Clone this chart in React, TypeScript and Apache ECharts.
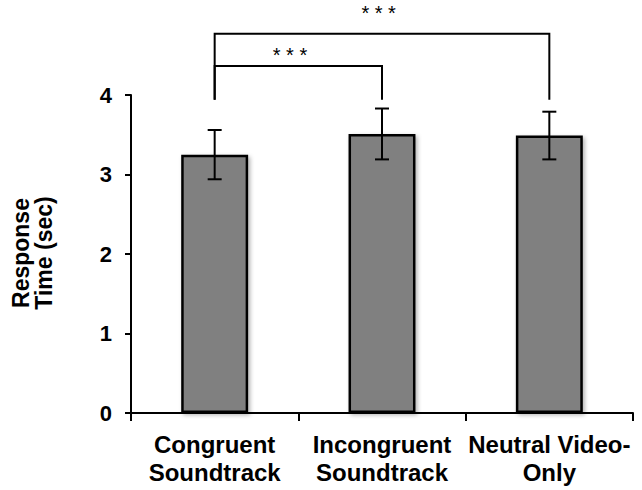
import React, { useEffect, useRef } from "react";
import * as echarts from "echarts";

const categories = ["Congruent\nSoundtrack", "Incongruent\nSoundtrack", "Neutral Video-\nOnly"];
const meanRT = [3.25, 3.51, 3.49];
const semRT = [0.31, 0.32, 0.3];
const yMin = 0;
const yMax = 4;
const yInterval = 1;

const bracketFrom = [0, 0];
const bracketTo = [1, 2];
const bracketTop = [4.365, 4.77];
const bracketFoot = 3.94;
const starText = ["* * *", "* * *"];
const starX = [0.45, 0.98];
const starY = [4.5, 5.03];

const FONT = "'Liberation Sans', Arial, Helvetica, sans-serif";

export default function App() {
  const ref = useRef<HTMLDivElement>(null);

  useEffect(() => {
    document.body.style.margin = "0";
    const chart = echarts.init(ref.current as HTMLDivElement, undefined, { renderer: "svg" });

    const errData = meanRT.map((m, i) => [i, m - semRT[i], m + semRT[i]]);
    const brData = bracketFrom.map((f, i) => [f, bracketTo[i], bracketTop[i], starX[i], starY[i]]);

    chart.setOption({
      animation: false,
      backgroundColor: "#fff",
      grid: { left: 131, right: 9, top: 95, bottom: 77 },
      graphic: [
        {
          type: "text",
          x: 32,
          y: 253,
          rotation: Math.PI / 2,
          style: {
            text: "Response\nTime (sec)",
            fontFamily: FONT,
            fontSize: 23,
            fontWeight: "bold",
            lineHeight: 23,
            fill: "#000",
            align: "center",
            verticalAlign: "middle",
          },
        },
      ],
      xAxis: {
        type: "category",
        data: categories,
        axisLine: { show: true, lineStyle: { color: "#000", width: 2 } },
        axisTick: { show: true, length: 8, alignWithLabel: false, lineStyle: { color: "#000", width: 2 } },
        axisLabel: {
          interval: 0,
          color: "#000",
          fontFamily: FONT,
          fontSize: 24,
          fontWeight: "bold",
          lineHeight: 28,
          margin: 17,
        },
      },
      yAxis: {
        type: "value",
        min: yMin,
        max: yMax,
        interval: yInterval,
        splitLine: { show: false },
        axisLine: { show: true, lineStyle: { color: "#000", width: 2 } },
        axisTick: { show: true, length: 6, lineStyle: { color: "#000", width: 2 } },
        axisLabel: {
          color: "#000",
          fontFamily: FONT,
          fontSize: 22,
          fontWeight: "bold",
          margin: 19,
        },
      },
      series: [
        {
          type: "bar",
          data: meanRT,
          barWidth: "40%",
          itemStyle: {
            color: "#808080",
            borderColor: "#000",
            borderWidth: 2.5,
            shadowColor: "rgba(0,0,0,0.3)",
            shadowBlur: 4,
            shadowOffsetX: 2,
            shadowOffsetY: 2,
          },
        },
        {
          type: "custom",
          z: 5,
          clip: false,
          encode: { x: 0, y: [1, 2] },
          data: errData,
          renderItem: (params: any, api: any) => {
            const x = api.value(0);
            const pLo = api.coord([x, api.value(1)]);
            const pHi = api.coord([x, api.value(2)]);
            const half = 7;
            const st = { stroke: "#000", lineWidth: 2 };
            return {
              type: "group",
              children: [
                { type: "line", shape: { x1: pLo[0], y1: pLo[1], x2: pHi[0], y2: pHi[1] }, style: st },
                { type: "line", shape: { x1: pLo[0] - half, y1: pLo[1], x2: pLo[0] + half, y2: pLo[1] }, style: st },
                { type: "line", shape: { x1: pHi[0] - half, y1: pHi[1], x2: pHi[0] + half, y2: pHi[1] }, style: st },
              ],
            };
          },
        },
        {
          type: "custom",
          z: 5,
          clip: false,
          encode: { x: 0, y: 2 },
          data: brData,
          renderItem: (params: any, api: any) => {
            const i = params.dataIndex;
            const from = api.value(0);
            const to = api.value(1);
            const top = api.value(2);
            const sx = api.value(3);
            const sy = api.value(4);
            const a0 = api.coord([from, bracketFoot]);
            const a1 = api.coord([from, top]);
            const b0 = api.coord([to, bracketFoot]);
            const b1 = api.coord([to, top]);
            const c0 = api.coord([0, sy]);
            const c1 = api.coord([1, sy]);
            const tx = c0[0] + sx * (c1[0] - c0[0]);
            const st = { stroke: "#000", lineWidth: 2, fill: "none" };
            return {
              type: "group",
              children: [
                {
                  type: "polyline",
                  shape: { points: [a0, a1, b1, b0] },
                  style: st,
                },
                {
                  type: "text",
                  x: tx,
                  y: c0[1],
                  style: {
                    text: starText[i],
                    fontFamily: FONT,
                    fontSize: 20,
                    fill: "#000",
                    align: "center",
                    verticalAlign: "middle",
                  },
                },
              ],
            };
          },
        },
      ],
    });

    return () => {
      chart.dispose();
    };
  }, []);

  return <div ref={ref} style={{ width: 642, height: 490 }} />;
}
